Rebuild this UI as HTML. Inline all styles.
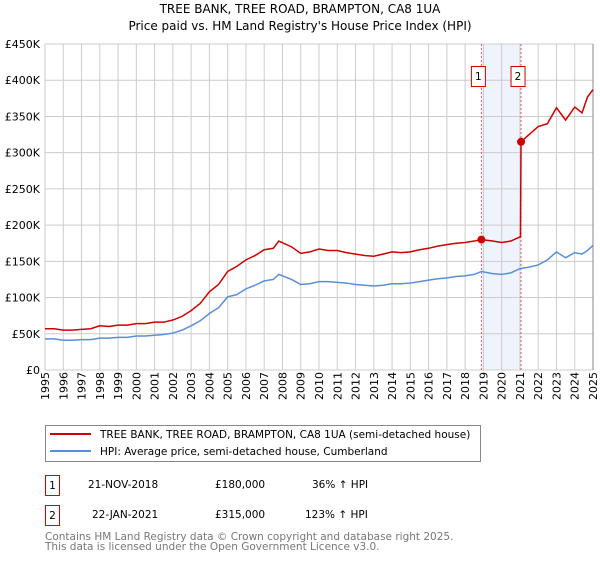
<!DOCTYPE html>
<html><head><meta charset="utf-8"><style>
body{margin:0;background:#fff;font-family:"DejaVu Sans","Liberation Sans",sans-serif;}
svg text{font-family:"DejaVu Sans","Liberation Sans",sans-serif;}
</style></head><body>
<svg id="chart" width="600" height="560" xmlns="http://www.w3.org/2000/svg">
<text x="300" y="13" text-anchor="middle" font-size="12">TREE BANK, TREE ROAD, BRAMPTON, CA8 1UA</text>
<text x="300" y="30" text-anchor="middle" font-size="12">Price paid vs. HM Land Registry's House Price Index (HPI)</text>
<g id="grid"></g>
<g id="series"></g>
<g id="axes"></g>
<rect x="45.5" y="425.5" width="435" height="36" fill="#fff" stroke="#888"/>
<line x1="50" y1="434" x2="91" y2="434" stroke="#cc0000" stroke-width="2"/>
<text x="100" y="438" font-size="10.5">TREE BANK, TREE ROAD, BRAMPTON, CA8 1UA (semi-detached house)</text>
<line x1="50" y1="451" x2="91" y2="451" stroke="#5b8fd4" stroke-width="2"/>
<text x="100" y="455" font-size="10.5">HPI: Average price, semi-detached house, Cumberland</text>
<g font-size="10.5">
<rect x="45.5" y="475.5" width="14" height="20" fill="#fff" stroke="#cc0000"/>
<text x="52.5" y="489" text-anchor="middle">1</text>
<text x="88" y="488">21-NOV-2018</text>
<text x="215" y="488">£180,000</text>
<text x="312" y="488">36% ↑ HPI</text>
</g>
<g font-size="10.5">
<rect x="45.5" y="505.5" width="14" height="20" fill="#fff" stroke="#cc0000"/>
<text x="52.5" y="519" text-anchor="middle">2</text>
<text x="92" y="518">22-JAN-2021</text>
<text x="215" y="518">£315,000</text>
<text x="305" y="518">123% ↑ HPI</text>
</g>
<text x="45" y="540" font-size="10.5" fill="#777">Contains HM Land Registry data © Crown copyright and database right 2025.</text>
<text x="45" y="550" font-size="10.5" fill="#777">This data is licensed under the Open Government Licence v3.0.</text>
</svg>
<script>
const years=[1995,1995.5,1996,1996.5,1997,1997.5,1998,1998.5,1999,1999.5,2000,2000.5,2001,2001.5,2002,2002.5,2003,2003.5,2004,2004.5,2005,2005.5,2006,2006.5,2007,2007.5,2007.8,2008.5,2009,2009.5,2010,2010.5,2011,2011.5,2012,2012.5,2013,2013.5,2014,2014.5,2015,2015.5,2016,2016.5,2017,2017.5,2018,2018.5,2018.9,2019.5,2020,2020.5,2021,2021.5,2022,2022.5,2023,2023.5,2024,2024.4,2024.7,2025];
const hpiValues=[43,43,41,41,42,42,44,44,45,45,47,47,48,49,51,55,61,68,78,86,101,104,112,117,123,125,132,125,118,119,122,122,121,120,118,117,116,117,119,119,120,122,124,126,127,129,130,132,136,133,132,134,140,142,145,152,163,155,162,160,165,172];
const priceYears=[1995,1995.5,1996,1996.5,1997,1997.5,1998,1998.5,1999,1999.5,2000,2000.5,2001,2001.5,2002,2002.5,2003,2003.5,2004,2004.5,2005,2005.5,2006,2006.5,2007,2007.5,2007.8,2008.5,2009,2009.5,2010,2010.5,2011,2011.5,2012,2012.5,2013,2013.5,2014,2014.5,2015,2015.5,2016,2016.5,2017,2017.5,2018,2018.5,2018.9,2019.5,2020,2020.5,2021.03,2021.06,2021.5,2022,2022.5,2023,2023.5,2024,2024.4,2024.7,2025];
const priceValues=[57,57,55,55,56,57,61,60,62,62,64,64,66,66,69,74,82,92,108,118,136,143,152,158,166,168,178,170,161,163,167,165,165,162,160,158,157,160,163,162,163,166,168,171,173,175,176,178,180,178,176,178,184,315,325,336,340,362,345,363,355,377,387];
const yTicks=[0,50,100,150,200,250,300,350,400,450];
const yTickLabels=["£0","£50K","£100K","£150K","£200K","£250K","£300K","£350K","£400K","£450K"];
const xTicks=[1995,1996,1997,1998,1999,2000,2001,2002,2003,2004,2005,2006,2007,2008,2009,2010,2011,2012,2013,2014,2015,2016,2017,2018,2019,2020,2021,2022,2023,2024,2025];
const saleYears=[2018.89,2021.06];
const saleValues=[180,315];
const saleLabels=["1","2"];

const X0=45,X1=593,Y0=370,Y1=44;
const x=v=>X0+(v-1995)/30*(X1-X0);
const y=v=>Y0-v/450*(Y0-Y1);
const NS="http://www.w3.org/2000/svg";
function mk(tag,attrs,parent){const e=document.createElementNS(NS,tag);for(const k in attrs)e.setAttribute(k,attrs[k]);parent.appendChild(e);return e;}
const grid=document.getElementById('grid'),series=document.getElementById('series'),axes=document.getElementById('axes');

const band=mk('rect',{x:x(saleYears[0]),y:Y1,width:x(saleYears[1])-x(saleYears[0]),height:Y0-Y1,fill:'#eef3fc'},grid);


xTicks.forEach(t=>{
  const l=mk('line',{x1:x(t),x2:x(t),y1:Y1,y2:Y0,stroke:'#ccc'},grid);
  
  
  const tx=mk('text',{transform:`translate(${x(t)+4},${Y0+30}) rotate(-90)`,'font-size':'11'},axes);
  tx.textContent=t;
  
  
});
yTicks.forEach((t,i)=>{
  const l=mk('line',{x1:X0,x2:X1,y1:y(t),y2:y(t),stroke:'#ccc'},grid);
  
  
  const tx=mk('text',{x:X0-5,y:y(t)+4,'text-anchor':'end','font-size':'11'},axes);
  tx.textContent=yTickLabels[i];
  
  
});
const rb=mk('line',{x1:X1,x2:X1,y1:Y1,y2:Y0,stroke:'#888'},grid);


saleYears.forEach(s=>{
  const l=mk('line',{x1:x(s),x2:x(s),y1:Y1,y2:Y0,stroke:'#e06060','stroke-dasharray':'2,2'},grid);
  
  
});
const hp=mk('polyline',{points:years.map((t,i)=>x(t)+','+y(hpiValues[i])).join(' '),fill:'none',stroke:'#5b8fd4','stroke-width':'1.5'},series);


const pp=mk('polyline',{points:priceYears.map((t,i)=>x(t)+','+y(priceValues[i])).join(' '),fill:'none',stroke:'#cc0000','stroke-width':'1.5'},series);


saleYears.forEach((s,i)=>{
  const c=mk('circle',{cx:x(s),cy:y(saleValues[i]),r:4,fill:'#cc0000'},series);
  
  
  const g=mk('g',{},series);
  
  
  mk('rect',{x:x(s)-10,y:66.5,width:14,height:20,fill:'#fff',stroke:'#cc0000'},g);
  const t=mk('text',{x:x(s)-3,y:80,'text-anchor':'middle','font-size':'10.5'},g);
  t.textContent=saleLabels[i];
});
</script>
</body></html>
